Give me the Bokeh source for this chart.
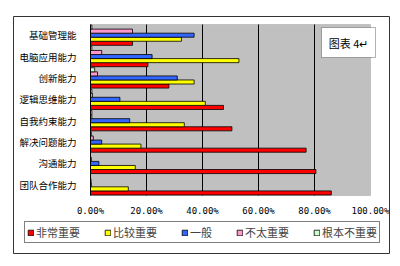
from bokeh.plotting import figure
from bokeh.models import (ColumnDataSource, Range1d, FixedTicker, Legend, LegendItem,
                          BoxAnnotation, Label, LinearAxis)
from bokeh.transform import dodge
from bokeh.embed import file_html
from bokeh.resources import INLINE

# Categories, top to bottom as shown
categories = ['基础管理能', '电脑应用能力', '创新能力', '逻辑思维能力',
              '自我约束能力', '解决问题能力', '沟通能力', '团队合作能力']

# Share of answers (fraction) per series, same order as categories
very_important = [0.15, 0.205, 0.28, 0.475, 0.505, 0.77, 0.805, 0.86]      # 非常重要
fairly_important = [0.325, 0.53, 0.37, 0.41, 0.335, 0.18, 0.16, 0.135]   # 比较重要
neutral = [0.37, 0.22, 0.31, 0.105, 0.14, 0.04, 0.03, 0.003]              # 一般
not_very_important = [0.15, 0.04, 0.025, 0.007, 0.005, 0.01, 0.003, 0.002]  # 不太重要
not_important = [0.005, 0.005, 0.015, 0.005, 0.005, 0.003, 0.0, 0.0]     # 根本不重要

series_names = ['非常重要', '比较重要', '一般', '不太重要', '根本不重要']
series_values = [very_important, fairly_important, neutral, not_very_important, not_important]
series_colors = ['#FF0000', '#FFFF00', '#3366FF', '#FF99CC', '#CCFFCC']
series_offsets = [-0.38, -0.19, 0.0, 0.19, 0.38]

x_ticks = [0, 0.2, 0.4, 0.6, 0.8, 1.0]
x_tick_labels = ['0.00%', '20.00%', '40.00%', '60.00%', '80.00%', '100.00%']

n = len(categories)
y_pos = [n - 0.5 - i for i in range(n)]

data = {'cat': categories, 'y': y_pos}
for i, vals in enumerate(series_values):
    data['s%d' % i] = vals
source = ColumnDataSource(data)

# frame = outer chart border; plot area (0..1, 0..n) sits inside it
PX_X = 280.0           # pixels per 100 %
PX_Y = 171.0 / n       # pixels per category band
p = figure(width=400, height=266, output_backend="svg", toolbar_location=None,
           x_range=Range1d(-77 / PX_X, 299 / PX_X),
           y_range=Range1d(-58 / PX_Y, n + 8 / PX_Y),
           min_border_left=13, min_border_right=11, min_border_top=16, min_border_bottom=13,
           x_axis_location=None, y_axis_location=None)
p.background_fill_color = 'white'
p.border_fill_color = 'white'
p.outline_line_color = '#333333'
p.outline_line_width = 1
p.xgrid.grid_line_color = None
p.ygrid.grid_line_color = None

# grey plot area
p.add_layout(BoxAnnotation(left=0, right=1, bottom=0, top=n, fill_color='#C0C0C0', fill_alpha=1,
                           line_color='#808080', line_width=1, level='underlay'))
# vertical gridlines at the x ticks
p.segment(x0=x_ticks[1:-1], y0=0, x1=x_ticks[1:-1], y1=n, line_color='#000000', line_width=1)

renderers = []
for i, name in enumerate(series_names):
    r = p.hbar(y=dodge('y', series_offsets[i]), right='s%d' % i, left=0,
               height=0.19, source=source, fill_color=series_colors[i],
               line_color='#000000', line_width=0.8)
    renderers.append(r)

# axes fixed at the plot area's edges
xaxis = LinearAxis(fixed_location=0, bounds=(0, 1), ticker=FixedTicker(ticks=x_ticks))
xaxis.major_label_overrides = {t: l for t, l in zip(x_ticks, x_tick_labels)}
xaxis.axis_line_color = None
xaxis.major_tick_line_color = None
xaxis.minor_tick_line_color = None
xaxis.major_label_text_font = 'DejaVu Sans Mono'
xaxis.major_label_text_font_size = '9px'
xaxis.major_label_text_color = 'black'
xaxis.major_label_standoff = 4
p.add_layout(xaxis, 'below')

yaxis = LinearAxis(fixed_location=0, bounds=(0, n), ticker=FixedTicker(ticks=y_pos))
yaxis.major_label_overrides = {y: c for y, c in zip(y_pos, categories)}
yaxis.axis_line_color = '#000000'
yaxis.major_tick_line_color = None
yaxis.minor_tick_line_color = None
yaxis.major_label_text_font = 'Noto Sans CJK SC'
yaxis.major_label_text_font_size = '9.5px'
yaxis.major_label_text_color = 'black'
yaxis.major_label_standoff = 8
p.add_layout(yaxis, 'left')

# text box "图表 4"
p.add_layout(BoxAnnotation(left=308, right=362, bottom=196, top=226,
                           left_units='screen', right_units='screen',
                           top_units='screen', bottom_units='screen',
                           fill_color='white', fill_alpha=1, line_color='#000000', line_width=1))
p.add_layout(Label(x=335, y=211, x_units='screen', y_units='screen', text='图表 4↵',
                   text_font='Noto Sans CJK SC', text_font_size='11px', text_color='black',
                   text_align='center', text_baseline='middle'))

legend = Legend(items=[LegendItem(label=nm, renderers=[r]) for nm, r in zip(series_names, renderers)],
                orientation='horizontal', location=(11, 10))
legend.label_text_font = 'Noto Sans CJK SC'
legend.label_text_font_size = '11px'
legend.glyph_width = 7
legend.glyph_height = 7
legend.label_standoff = 2
legend.spacing = 24
legend.padding = 2
legend.margin = 0
legend.border_line_color = '#000000'
legend.border_line_width = 1
legend.background_fill_color = 'white'
legend.background_fill_alpha = 1
legend.label_height = 12
p.add_layout(legend, 'center')

open("out.html", "w").write(file_html(p, INLINE))
